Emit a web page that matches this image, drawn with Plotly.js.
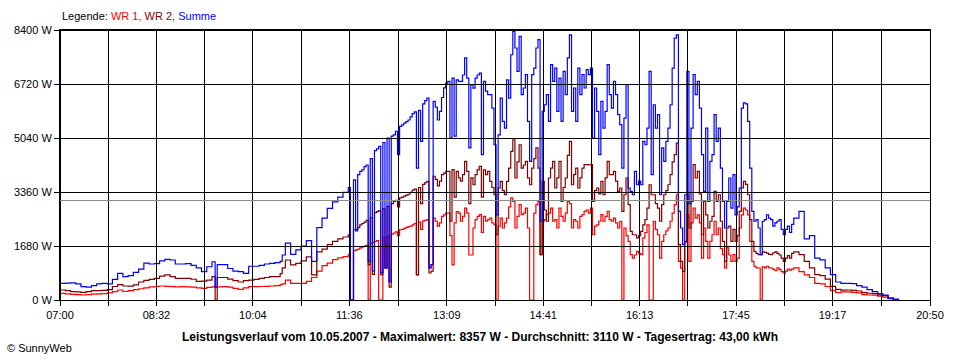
<!DOCTYPE html>
<html><head><meta charset="utf-8">
<script src="https://cdn.plot.ly/plotly-3.0.1.min.js"></script>
<style>
html,body{margin:0;padding:0;background:#fff}
#chart{width:960px;height:360px}
#chart .shapelayer path { shape-rendering: crispEdges; }
</style>
</head><body><div id="chart"></div>
<script>
const SERIES_NAMES = ['WR 1', 'WR 2', 'Summe'];
const SERIES_COLORS = ['#ff0000', '#800000', '#0000ff'];
const X_TICK_LABELS = ['07:00','08:32','10:04','11:36','13:09','14:41','16:13','17:45','19:17','20:50'];
const Y_TICKS = [0, 1680, 3360, 5040, 6720, 8400];
const AVERAGE_W = 3110;
const TITLE = 'Leistungsverlauf vom 10.05.2007 - Maximalwert: 8357 W - Durchschnitt: 3110 W - Tagesertrag: 43,00 kWh';

// minutes after 07:00
const MINUTES = [
0,5,10,15,20,25,30,35,40,45,
50,55,60,65,70,75,80,85,90,95,
100,105,110,115,120,125,130,135,140,145,
148,
150,155,160,165,170,175,180,185,190,195,200,205,210,
212,
215,220,225,230,235,240,245,250,255,260,265,270,275,
277,
280,282,284,286,288,290,292,294,296,298,
300,302,304,306,308,310,312,314,316,318,
320,322,324,326,328,330,332,334,336,338,
340,342,344,346,348,350,352,354,356,358,
360,362,364,366,368,370,372,374,376,378,
380,382,384,386,388,390,392,394,396,398,
400,402,404,406,408,410,412,414,416,418,
420,422,424,426,428,430,432,434,436,438,
440,442,444,446,448,450,452,454,456,458,
460,462,464,466,468,470,472,474,476,478,
480,482,484,486,488,490,492,494,496,498,
500,502,504,506,508,510,512,514,516,518,
520,522,524,526,528,530,532,534,536,538,
540,542,544,546,548,550,552,554,556,558,
560,562,564,566,568,570,572,574,576,578,
580,582,584,586,588,590,592,594,596,598,
600,602,604,606,608,610,612,614,616,618,
620,622,624,626,628,630,632,634,636,638,
640,642,644,646,648,650,652,654,656,658,
660,662,664,666,668,670,672,674,676,678,
680,682,684,686,688,690,692,694,696,698,
700,
705,710,715,720,725,730,735,740,745,750,
755,760,765,770,775,780,785,790,795,800
];

const WR1 = [
208,190,176,165,155,165,180,190,197,220,
260,311,265,290,320,350,380,410,420,435,
425,415,410,415,410,400,380,363,390,410,
400,
410,415,400,363,332,380,415,415,420,425,435,450,480,
500,
620,520,520,520,580,700,900,1070,1150,1255,1310,1350,1410,
0,
1535,1560,1580,1620,1650,1680,1700,0,1760,1790,
1825,1850,0,0,1950,1000,1980,570,2050,2085,
2120,2000,2185,2200,2230,2260,2280,2300,2340,2380,
790,2420,2200,2460,2480,2500,1000,1100,2550,2450,
2300,2400,2600,2650,2700,2700,2000,1090,2400,2750,
2700,2450,2600,2860,2700,1400,1400,2240,2500,2600,
2655,2100,2600,2450,2500,2550,2400,2340,0,2300,
2550,2240,2400,2550,2900,3175,3070,2240,2600,2965,
2655,2700,2860,2240,0,0,2700,2965,3070,1410,
2450,2500,2655,2700,2860,2450,2500,2240,2860,2600,
2450,2700,3070,3000,2240,2500,2450,2240,2600,2655,
2760,2800,2700,2860,2030,2300,2340,2450,2655,2450,
2600,2760,2500,2450,2550,2400,2240,2450,0,2240,
2000,1825,1410,1305,1400,1515,1450,1410,1930,2100,
2340,0,0,2450,2200,2030,1305,1825,2030,2150,
2240,2450,2700,2965,3275,1200,990,0,1800,2655,
1200,2400,2860,2550,2650,2400,1305,2240,1825,1305,
1825,2030,2450,2030,2240,1600,1410,1000,1620,1400,
1200,1410,1200,1305,2240,2650,2860,2800,2650,1825,
1200,1050,1000,995,0,1030,1000,1050,1000,995,
950,910,1000,950,880,840,900,960,930,960,
1000,
880,780,700,520,500,420,290,230,250,250,
240,220,170,155,150,120,90,40,0,0
];

const WR2 = [
311,290,260,250,240,260,290,290,300,320,
420,480,435,430,470,560,610,640,670,745,
780,725,675,670,670,645,580,590,620,725,
0,
700,700,650,600,560,600,620,640,670,700,725,730,820,
1000,
1245,1090,1140,1220,1340,780,1500,1580,1720,1825,1900,1960,2030,
0,
2185,2200,2250,2340,2380,2420,2480,1100,2560,800,
2720,2750,2780,790,2840,1000,2915,400,3000,3070,
3100,2900,3175,3200,3230,3260,3290,3350,3420,3450,
780,3500,3000,3600,3650,3690,840,900,3850,3750,
3550,3700,3900,3950,4000,4000,2450,4055,3200,4000,
3800,3700,3900,4315,4000,3000,3800,3585,3900,4050,
4160,3200,4050,3900,4000,3690,3500,3275,2030,3485,
3690,3400,3275,3690,4100,4625,4985,3795,4300,4830,
4105,4200,4315,3800,3585,4105,4400,4730,4105,1410,
3690,2800,2450,3795,4100,4315,3485,3800,4315,3070,
3500,3795,4500,4935,3585,3900,4105,3485,3800,4105,
4210,4210,4200,4210,3070,3400,3485,3300,3690,3275,
3800,4315,3900,3900,4000,3700,3380,3485,2760,3275,
3795,2965,2135,2030,2030,1930,2000,2135,2340,2500,
2860,3585,3275,3275,3000,2860,2450,2965,3275,3400,
3585,3900,4300,4520,4880,1720,1200,890,1825,3275,
2240,3070,4210,3795,4000,3300,2030,3070,2650,2240,
2450,2600,3380,3070,3275,2450,1825,1200,2240,2300,
1825,2200,1825,2000,2760,3485,3690,3600,3275,2500,
1825,1515,1450,1410,1410,1500,1480,1460,1420,1410,
1470,1500,1450,1400,1300,1200,1300,1380,1300,1450,
1500,
1410,1200,1000,790,760,650,425,330,310,311,
300,280,230,210,200,160,135,60,0,0
];

const SUMME = [
520,525,530,500,415,400,445,500,515,500,
640,830,730,760,860,960,1150,1120,1130,1220,
1265,1245,1120,1120,1130,1080,1000,880,1035,1190,
400,
1100,1100,980,900,880,830,1050,1050,1080,1120,1140,1160,1200,
1400,
1770,1420,1560,1680,1850,1200,2250,2550,2850,3050,3200,3350,3500,
0,
3740,2150,3900,4000,4050,4150,4200,1200,4400,900,
4650,4700,4780,850,4900,1000,5040,570,5100,5140,
5250,4520,5400,5450,5500,5550,5600,5700,5800,5850,
4100,5900,4935,6100,6200,6280,995,1100,6180,6000,
5600,5870,6300,6600,6750,6800,5040,6900,5100,6850,
6800,6800,7000,7530,6900,4730,6700,6590,6900,7000,
7060,4520,6800,6500,6390,6390,5970,4830,2650,5140,
6280,5560,5350,6850,6280,7630,8357,7840,7115,8200,
6390,6595,7010,5560,4315,7010,7215,7840,8100,2450,
5870,6075,6390,5560,7320,6800,7215,5870,6900,5560,
7115,6390,7530,8250,5870,6595,5560,7215,6390,7010,
6595,7165,7010,7215,5040,6595,5870,4520,6180,5350,
5870,7320,6390,5970,6800,6390,5770,5455,4105,5660,
6700,3485,3380,3275,4000,3585,3700,3585,4935,4830,
5350,7115,3900,6075,5350,5770,3275,4730,4315,4935,
5350,6075,7215,8150,8250,2760,2240,1720,3275,7115,
3000,5350,7010,6390,6800,5970,4520,3380,5350,3070,
4315,4520,5770,4935,5350,4105,3070,2240,3070,3795,
2860,3900,2650,2900,3485,5970,6130,6100,5560,4105,
2760,2450,2500,2240,1410,2450,2500,2650,2550,2500,
2300,2400,2450,2500,2200,2030,2200,2300,2100,2350,
2550,
2760,1900,2000,1300,1250,1000,790,560,520,520,
510,450,400,320,260,200,150,60,25,0
];

// ---- axis ticks from the labels ----
const toMin = s => { const p = s.split(':'); return (+p[0]) * 60 + (+p[1]) - 420; };
const labelPos = X_TICK_LABELS.map(toMin);
const xTickVals = [], xTickText = [];
labelPos.forEach((v, i) => {
  xTickVals.push(v); xTickText.push(X_TICK_LABELS[i]);
  if (i < labelPos.length - 1) { xTickVals.push((v + labelPos[i + 1]) / 2); xTickText.push(''); }
});

const FONT = 'Liberation Sans, Arial, sans-serif';
const seriesData = [WR1, WR2, SUMME];
const traces = seriesData.map((ys, i) => ({
  type: 'scatter', mode: 'lines', x: MINUTES, y: ys, name: SERIES_NAMES[i],
  line: {color: SERIES_COLORS[i], width: 1.2, shape: 'hv'}, showlegend: false, hoverinfo: 'skip'
}));

const shapes = [];
xTickVals.forEach(v => shapes.push({type: 'line', xref: 'x', yref: 'paper', x0: v, x1: v, y0: 0, y1: 1,
  line: {color: '#000', width: 1}, layer: 'above'}));
Y_TICKS.forEach(v => shapes.push({type: 'line', xref: 'paper', yref: 'y', x0: 0, x1: 1, y0: v, y1: v,
  line: {color: '#000', width: 1}, layer: 'above'}));
shapes.push({type: 'line', xref: 'paper', yref: 'y', x0: 0, x1: 1, y0: AVERAGE_W, y1: AVERAGE_W,
  line: {color: '#8c8c8c', width: 1}, layer: 'above'});

const legendText = 'Legende: ' + SERIES_NAMES.map((n, i) =>
  '<span style="color:' + SERIES_COLORS[i] + '">' + n + (i < SERIES_NAMES.length - 1 ? ',' : '') + '</span>').join(' ');

const layout = {
  width: 960, height: 360,
  margin: {l: 60, r: 30, t: 30, b: 60},
  paper_bgcolor: '#fff', plot_bgcolor: '#fff',
  font: {family: FONT, size: 11, color: '#000'},
  title: {text: '<b>' + TITLE + '</b>', x: 0.5, xanchor: 'center', xref: 'container',
    y: 0.064, yanchor: 'middle', yref: 'container', font: {family: FONT, size: 12, color: '#000'}},
  xaxis: {range: [0, labelPos[labelPos.length - 1]], tickvals: xTickVals, ticktext: xTickText,
    ticks: 'outside', ticklen: 5, tickcolor: '#000', tickwidth: 1, showgrid: false, zeroline: false,
    showline: true, linecolor: '#000', linewidth: 1, mirror: true, fixedrange: true,
    tickfont: {family: FONT, size: 11, color: '#000'}},
  yaxis: {range: [0, Y_TICKS[Y_TICKS.length - 1]], tickvals: Y_TICKS, ticktext: Y_TICKS.map(v => v + ' W'),
    ticks: 'outside', ticklen: 5, tickcolor: '#000', tickwidth: 1, showgrid: false, zeroline: false,
    showline: true, linecolor: '#000', linewidth: 1, mirror: true, fixedrange: true,
    tickfont: {family: FONT, size: 11, color: '#000'}},
  shapes: shapes,
  annotations: [
    {text: legendText, xref: 'paper', yref: 'paper', x: 0, y: 1 + 14 / 270, xanchor: 'left', yanchor: 'middle',
      showarrow: false, font: {family: FONT, size: 11, color: '#000'}},
    {text: '© SunnyWeb', xref: 'paper', yref: 'paper', x: -55 / 870, y: -48 / 270, xanchor: 'left', yanchor: 'middle',
      showarrow: false, font: {family: FONT, size: 11, color: '#000'}}
  ]
};

Plotly.newPlot('chart', traces, layout, {staticPlot: true, displayModeBar: false});
</script>
</body></html>
